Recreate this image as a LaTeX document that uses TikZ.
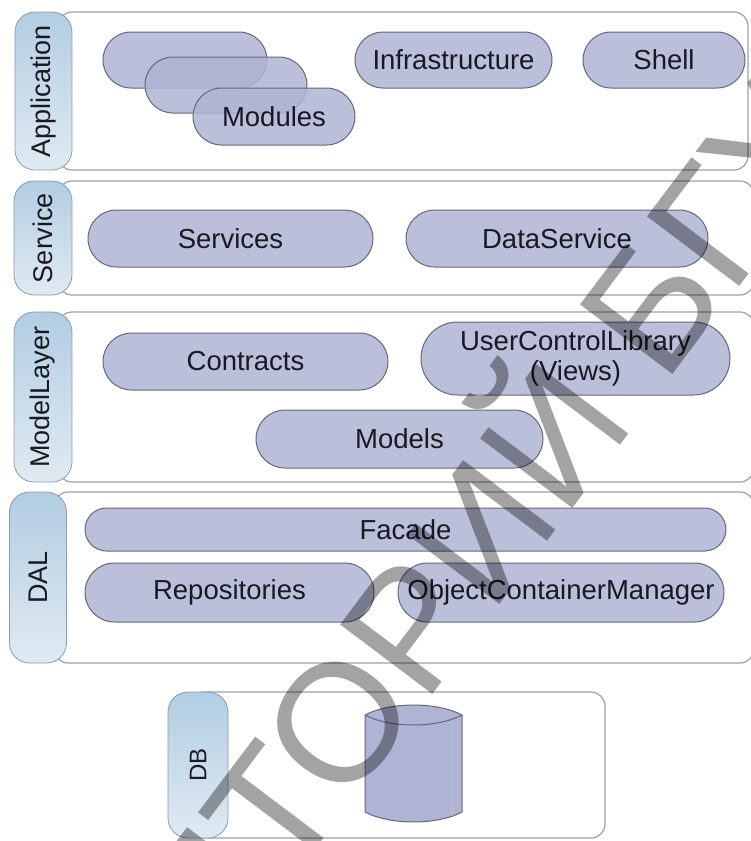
\documentclass[tikz,border=0pt]{standalone}
\usepackage{fontspec}
\setmainfont{Liberation Sans}
\usetikzlibrary{shapes.misc}

\definecolor{pillfill}{RGB}{176,180,212}
\definecolor{pilledge}{RGB}{100,103,125}
\definecolor{tabtop}{RGB}{178,205,226}
\definecolor{tabbot}{RGB}{224,234,242}
\definecolor{tabedge}{RGB}{140,155,172}
\definecolor{frameedge}{RGB}{160,160,160}
\definecolor{txt}{RGB}{25,25,35}

\begin{document}
\begin{tikzpicture}[x=1pt,y=-1pt,
  pill/.style={rounded rectangle, draw=pilledge, line width=1pt, fill=pillfill,
    fill opacity=0.85, text opacity=1, inner sep=0pt, text=txt,
    font=\fontsize{27.5}{30}\selectfont, align=center},
  panel/.style={draw=frameedge, line width=1.2pt, fill=white, rounded corners=14pt},
  tab/.style={draw=tabedge, line width=0.8pt, top color=tabtop, bottom color=tabbot,
    rounded corners=20pt, rotate=90, inner sep=0pt, text=txt,
    font=\fontsize{27}{30}\selectfont},
  wm/.style={inner sep=0pt, text=black, text opacity=0.36,
    font=\fontsize{168}{168}\selectfont}
]
\useasboundingbox (0,0) rectangle (751,841);
\fill[white] (0,0) rectangle (751,841);

% Application layer
\draw[panel] (58,12) rectangle (748,170);
\node[tab, minimum width=158pt, minimum height=57pt] (appTab) at (43.5,91) {Application};
\node[pill, minimum width=164pt, minimum height=56pt] (modA) at (185,60) {};
\node[pill, minimum width=162pt, minimum height=56pt] (modB) at (226,85) {};
\node[pill, minimum width=162pt, minimum height=57pt] (modules) at (274,116.5) {Modules};
\node[pill, minimum width=197pt, minimum height=56pt] (infra) at (453.5,60) {Infrastructure};
\node[pill, minimum width=162pt, minimum height=56pt] (shell) at (664,60) {Shell};

% Service layer
\draw[panel] (58,181) rectangle (754,295);
\node[tab, minimum width=114pt, minimum height=58pt] (svcTab) at (43,238) {Service};
\node[pill, minimum width=285pt, minimum height=57pt] (services) at (230.5,238.5) {Services};
\node[pill, minimum width=302pt, minimum height=57pt] (dataSvc) at (557,238.5) {DataService};

% Model layer
\draw[panel] (58,312) rectangle (754,482);
\node[tab, minimum width=170pt, minimum height=58pt] (mdlTab) at (43,397) {ModelLayer};
\node[pill, minimum width=285pt, minimum height=57pt] (contracts) at (245.5,361.5) {Contracts};
\node[pill, minimum width=309pt, minimum height=73pt] (ucl) at (575.5,358.5) {UserControlLibrary\\(Views)};
\node[pill, minimum width=287pt, minimum height=58pt] (models) at (399.5,439) {Models};

% Data access layer
\draw[panel] (54,492) rectangle (754,663);
\node[tab, minimum width=171pt, minimum height=57pt] (dalTab) at (38,577.5) {DAL};
\node[pill, minimum width=641pt, minimum height=43pt] (facade) at (405.5,529.5) {Facade};
\node[pill, minimum width=289pt, minimum height=59pt] (repos) at (229.5,592.5) {Repositories};
\node[pill, minimum width=326pt, minimum height=59pt] (ocm) at (561,592.5) {ObjectContainerManager};

% Database
\draw[panel] (190,692) rectangle (605,838);
\node[tab, minimum width=146pt, minimum height=60pt, font=\fontsize{24}{26}\selectfont] (dbTab) at (198,765) {DB};
\filldraw[fill=pillfill, draw=pilledge, line width=1pt]
  (365,715) -- (365,812) .. controls (390,825.3) and (437,825.3) .. (462,812)
  -- (462,715) .. controls (437,701.7) and (390,701.7) .. (365,715) -- cycle;
\draw[pilledge, line width=1pt] (365,715) .. controls (390,728.3) and (437,728.3) .. (462,715);
\draw[pilledge!45, line width=0.8pt] (452,720) -- (452,816);

% watermark across the page
\begin{scope}
  \clip (0,0) rectangle (751,841);
  \node[wm, anchor=base west, rotate=53] (wmB) at (288,886) {ТОРИЙ БГУИР};
  \node[wm, anchor=base east, rotate=53] (wmA) at (wmB.base west) {РЕПОЗИ};
\end{scope}
\end{tikzpicture}
\end{document}
